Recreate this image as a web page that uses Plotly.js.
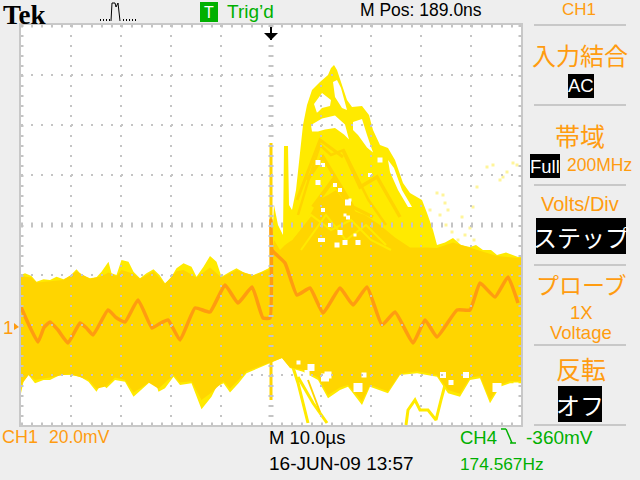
<!DOCTYPE html>
<html><head><meta charset="utf-8">
<script src="https://cdn.plot.ly/plotly-3.0.1.min.js"></script>
<style>html,body{margin:0;padding:0;background:#eee}</style></head>
<body><div id="chart" style="width:640px;height:480px"></div>
<script>
// Time in microseconds, level in millivolts (10 us/div, 20 mV/div, ground at the "1" marker)
const envelopeUpperT=[-50,-49.2,-47.9,-46.9,-45.5,-44.2,-42.9,-41.5,-40.2,-38.9,-37.9,-36.2,-34.9,-33.9,-32.5,-31.9,-30.9,-29.9,-28.5,-27.5,-26.2,-24.9,-23.5,-22.3,-21.2,-20.2,-18.9,-17.5,-15.9,-14.9,-13.5,-12.2,-10.9,-9.9,-8.2,-6.9,-5.2,-3.5,-1.9,-0.5,0,0.6,1.4,2.4,2.6,3.4,3.6,4.2,5,5.8,6.4,7.2,8.2,9.8,11.4,12,12.6,13.2,14.2,15.2,16.2,18.2,19.6,20.4,21.8,23.4,24.8,26.4,27.8,30.2,31.2,32.4,33.2,34.8,36.4,38,39.8,41,42.4,44,45.2,47,49.4,50];
const envelopeUpperV=[20,20.7,19.6,17.3,18.3,18,19.3,18.3,19.6,22.3,20,18.7,19.1,21.3,25.3,20.7,20,26,25.3,21.3,18.7,20.7,22.3,20,16.7,18.3,22.7,24.7,23.3,19.3,23.3,27.6,25.3,19.3,21.3,22.7,20.7,20,21.3,22.7,25.2,48,40,36,71.6,71.6,48,46,54,68,80,88,94,97.2,100,102.8,104,102,96,90,87.2,87.6,84,78,72,70.8,66,56.8,52.8,50,44.8,38,32,33,34.8,32,31.2,32,30,30,28,29,27.2,27.2];
const envelopeLowerT=[-50,-49.5,-48.5,-47.2,-45.5,-44.2,-42.2,-40.2,-38.2,-36.5,-34.9,-33.9,-32.9,-31.2,-29.2,-27.5,-25.9,-24.5,-23.5,-22.5,-21.2,-19.5,-18.2,-15.9,-13.9,-11.9,-10.9,-9.5,-8.2,-6.5,-4.9,-2.5,-0.2,2.2,3.8,6.4,9.4,11.4,13.8,15.4,18.2,19.8,23.4,25.8,29.2,33.2,35.4,37.8,39.8,41.8,43.8,45.8,47.8,50];
const envelopeLowerV=[-27.3,-22.7,-20,-23.3,-22,-22,-20,-20,-20.7,-22.7,-26.7,-23.3,-25.3,-22,-22.7,-28.7,-26,-23.3,-20,-26.7,-25.3,-20.7,-24,-23.3,-33.7,-28.7,-24.7,-23.3,-27,-23.3,-19.3,-17.3,-15.3,-13.2,-17.2,-18.7,-22,-29.3,-26,-24.7,-32,-24.7,-27.3,-20,-19.3,-20.7,-27.3,-28.7,-22,-21.3,-31.3,-24.7,-23.3,-23.3];
const denseUpperT=[-50,-47.9,-46.9,-44.2,-41.5,-38.9,-36.2,-33.9,-32.5,-30.9,-29.9,-27.5,-26.2,-23.5,-21.2,-18.9,-17.5,-14.9,-13.5,-12.2,-9.9,-6.9,-3.5,-0.5,0,0.6,1.8,2.8,4.2,5.8,7.8,9.4,11.4,13,14.5,16,18.8,21.8,24.8,27.8,30.8,33.2,36.4,39.8,42.4,45.2,49.4,50];
const denseUpperV=[19.5,19,17,17.6,18,21.5,18.5,19.5,21,19.5,22,20.5,18.5,21.5,16.5,21.5,22,19,21,23,19,22,19.8,22,24,34,30,32,34,38,44,50,52,54,50,46,44,40,35,31,31,30.8,33,30.8,29.2,27.6,26.8,26.8];
const denseLowerT=[-50,-48.5,-47.2,-44.2,-40.2,-36.5,-34.9,-32.9,-31.2,-29.2,-27.5,-25.9,-24.5,-22.5,-19.5,-18.2,-15.9,-13.9,-11.9,-9.5,-8.2,-6.5,-4.9,-0.2,2.2,3.8,6.4,9.4,11.4,13.8,15.4,18.2,19.8,23.4,25.8,29.2,33.2,35.4,37.8,39.8,41.8,43.8,45.8,47.8,50];
const denseLowerV=[-24,-20,-22,-21,-19.5,-22,-25.5,-24.5,-21,-22,-27,-25,-23,-25.5,-20,-23,-22.5,-30,-27,-22.5,-25.5,-22,-18.5,-15,-13.2,-17,-18,-21,-28,-25,-24,-30.5,-24,-26.5,-19.5,-18.5,-20,-26,-27.5,-21,-20.5,-30,-24,-22.5,-22.5];
const latestT=[-50,-48.6,-46.6,-45.4,-44.2,-42.6,-40.6,-38.2,-37,-35.6,-32.6,-31,-29.2,-26.6,-23.8,-22.4,-20.6,-18.2,-15.2,-12.2,-9.2,-6.6,-3.8,-1.6,-0.2,0,0.2,2.8,5.2,7.8,10.4,13.8,16.4,19.2,22.2,24.8,28.4,30.8,33.2,37.2,39.8,41.8,44.8,47.4,49.4];
const latestV=[7.2,0.8,-6.8,-1,1.2,-2,-7.2,0.8,-1,-4,6,3,1.2,10,-1.2,0.4,2,-6,6.8,5.2,16,8.8,15.2,2.8,2.8,42,30,24.8,12,14.8,4.8,14.8,8,15.2,0,5.2,-7.2,2,-4.8,6,6,16.8,11.2,19.2,8.8];
const triggerSpikeT=[0,0], triggerSpikeV=[72.8,-30];
const fallA_T=[3.8,5.4,7.4], fallA_V=[-13.2,-23.2,-39.2];
const fallB_T=[5.4,8.4,11.2], fallB_V=[-20.8,-31.2,-39.2];
const fallC_T=[7.4,9.8], fallC_V=[-22,-34.8];
const stragglerT=[27.0,27.4,28.8,29.8,31.4,32.2,33,34,34.8], stragglerV=[-40,-34,-30,-34,-34,-36,-38,-30,-24];
const ridgeA_T=[7,9,11,13.5], ridgeA_V=[78,84,86,86];
const streakA_T=[5.2,9.8,14.4], streakA_V=[50,74,67.2];
const streakB_T=[14.4,17.8,21.2,25.8], streakB_V=[70,55.2,59.2,43.2];
const streakC_T=[7.2,10.4,16.4,20.4], streakC_V=[58,67.2,47.2,43.2];
const streakD_T=[8.4,12.4,18.4], streakD_V=[47.2,58,39.2];
const streakE_T=[5.4,7.5,9.8,12,14.5,17,19.5,23], streakE_V=[44,58,72,68,70,60,50,40];
const glowA_T=[4,8,12,16,20,24], glowA_V=[34,44,38,42,34,30];
const glowB_T=[6,11,15,19,23], glowB_V=[30,44,34,40,32];
const holeT=[12.4,13.2,14,15,15.2,14.2,12.8,null,8.6,10.2,12,11.8,10.2,9.2,null,8,10.2,12.8,14.8,15.6,14.6,12.8,10.8,9.4,8.2,null,16.4,18.2,19.2,20.4,19.2,17.4,16.4,null,23.4,24.6,26.2,28.2,27.4,25.4,23.8];
const holeV=[97.2,98,94.8,88,86,86.8,91.2,null,88.4,92.8,90,87.6,86.8,84.8,null,80,82.6,83.8,80.2,74.2,76.2,78.8,78.2,77.4,77.4,null,81.2,82.4,76,69,71,76,78,null,66,62.8,54,47.2,47.2,54,61.2];
const gapT=[9.4,10.4,9.4,12.8,13.8,15.4,15.8,15.4,10.4,11.8,14.8,10.4,14.8,16.8,19.8,21.8,8,10.8,7.2,17.4,39,45.2,49,34.4,36,11.4,5.5,18.6,13.8,13.2,17.4,9.8];
const gapV=[65,64,57,56,54,49,50,43,46,40,44,34,33,36,60,66,-17,-21,-19,-25,-20,-25,-24,-20,-23,-20,-15,-20,37,32,33,34];
const gapSize=[5,4,5,4,4,6,3,4,4,4,3,4,5,3,4,5,7,8,5,9,6,9,5,6,5,7,4,5,5,5,5,4];
const faintT=[43.2,44.4,46.4,47.2,48.4,49.2,45.8,33.2,34.4,34.8,35.4,31.8,41.2,40.4,38.2,33.8,35,36.2,37.4,38.8,39.8,40.6];
const faintV=[63.2,64,59.2,61.2,64.8,64,58,52.8,52,48.8,46,46,55.2,47.2,43.2,44,40,37.2,34,36,38.8,34];

const L=21,R=521,T=25,B=425;
const X=p=>(p-L)/(R-L), Y=p=>(B-p)/(B-T);
const ORANGE='#FF9C10',GREEN='#00B000',SANS="'Liberation Sans',sans-serif",JP="'Noto Sans CJK JP',sans-serif",GRID='#C4C4C4',YEL='#FFEA00',GOLD='#FFD500';

const poly=(ux,uy,lx,ly,color)=>({x:ux.concat(lx.slice().reverse()),y:uy.concat(ly.slice().reverse()),mode:'lines',fill:'toself',fillcolor:color,line:{width:0,color:color},hoverinfo:'skip',showlegend:false});
const ln=(x,y,color,w,smooth)=>({x,y,mode:'lines',line:{color,width:w,shape:smooth?'spline':'linear',smoothing:0.4},hoverinfo:'skip',showlegend:false});
const traces=[
 {x:faintT,y:faintV,mode:'markers',marker:{symbol:'square',size:3,color:'#FFF59A'},hoverinfo:'skip',showlegend:false},
 poly(envelopeUpperT,envelopeUpperV,envelopeLowerT,envelopeLowerV,YEL),
 ln(fallA_T,fallA_V,YEL,3),ln(fallB_T,fallB_V,YEL,3),ln(fallC_T,fallC_V,GOLD,2),ln(stragglerT,stragglerV,YEL,3),
 poly(denseUpperT,denseUpperV,denseLowerT,denseLowerV,GOLD),
 ln(streakA_T,streakA_V,GOLD,3),ln(streakB_T,streakB_V,GOLD,3.5),ln(streakC_T,streakC_V,GOLD,3.5),ln(streakD_T,streakD_V,GOLD,4),ln(streakE_T,streakE_V,GOLD,2.5),
 ln(glowA_T,glowA_V,YEL,2),ln(glowB_T,glowB_V,YEL,2),
 {x:holeT,y:holeV,mode:'lines',fill:'toself',fillcolor:'#FFFFFF',line:{width:0,color:'#FFFFFF'},hoverinfo:'skip',showlegend:false},
 {x:gapT,y:gapV,mode:'markers',marker:{symbol:'square',size:gapSize,opacity:1,color:'#FFFFFF',line:{width:0}},hoverinfo:'skip',showlegend:false},
 ln(ridgeA_T,ridgeA_V,YEL,3),
 ln(triggerSpikeT,triggerSpikeV,GOLD,3),
 ln(latestT,latestV,ORANGE,3.5,true)
];

const shapes=[];
const seg=(x0,y0,x1,y1,color,width,dash)=>shapes.push({type:'line',xref:'x',yref:'y',x0,y0,x1,y1,line:{color,width,dash:dash||'solid'}});
const pline=(x0,y0,x1,y1,color,width)=>shapes.push({type:'line',xref:'paper',yref:'paper',x0:X(x0),y0:Y(y0),x1:X(x1),y1:Y(y1),line:{color,width}});
const box=(x0,y0,x1,y1,color)=>shapes.push({type:'rect',xref:'paper',yref:'paper',x0:X(x0),y0:Y(y0),x1:X(x1),y1:Y(y1),fillcolor:color,line:{width:0}});
const D='2px,8px';
for(let t=-40;t<=40;t+=10) if(t!==0) seg(t,120,t,-40,GRID,2,D);
for(const v of [100,80,60,20,0,-20]) seg(-50,v,50,v,GRID,2,D);
seg(-50,40,50,40,GRID,5,D);
seg(0,120,0,-40,GRID,5,D);
seg(-50,120,50,120,GRID,5,D); seg(-50,-40,50,-40,GRID,5,D);
seg(-50,120,-50,-40,GRID,5,D); seg(50,120,50,-40,GRID,5,D);
shapes.push({type:'rect',xref:'paper',yref:'paper',x0:X(L-1),y0:Y(T-1),x1:X(R+1),y1:Y(B+1),line:{color:'#C8C8C8',width:2},fillcolor:'rgba(0,0,0,0)'});
[25,105,185,265,345,425].forEach(y=>pline(534,y,626,y,'#C8C8C8',2));
box(200,2,218,22,GREEN);
box(568,74,594,98,'#000'); box(530,154,560,178,'#000'); box(536,218,626,254,'#000'); box(558,386,602,422,'#000');
pline(111,21,112,3,'#000',1);pline(112,3,115,3,'#000',1);pline(115,3,116,7,'#000',1);pline(116,7,118,3,'#000',1);pline(118,3,120,21,'#000',1);
[100,103,106,109,123,126,129,132,135].forEach(x=>pline(x,20,x+1,20,'#000',2));
pline(271,27,271,40,'#000',2);
shapes.push({type:'path',xref:'paper',yref:'paper',path:`M ${X(264)} ${Y(33)} L ${X(278)} ${Y(33)} L ${X(271)} ${Y(40)} Z`,fillcolor:'#000',line:{width:0}});
shapes.push({type:'path',xref:'paper',yref:'paper',path:`M ${X(14)} ${Y(323)} L ${X(19)} ${Y(327)} L ${X(14)} ${Y(330)} Z`,fillcolor:ORANGE,line:{width:0}});
pline(501,429,506,429,GREEN,1.5);pline(506,429,512,443,GREEN,1.5);pline(510,443,516,443,GREEN,1.5);

const ann=(text,x,y,color,size,family,anchor)=>({text,x:X(x),y:Y(y),xref:'paper',yref:'paper',showarrow:false,xanchor:anchor||'left',yanchor:'middle',font:{color,size,family:family||SANS},borderpad:0});
const annotations=[
 ann('<b>Tek</b>',2,15,'#000',27,"'Liberation Serif',serif"),
 ann('T',209,13,'#fff',16,SANS,'center'),
 ann('Trig’d',226,11,GREEN,19),
 ann('M Pos: 189.0ns',359,10,'#000',17.5),
 ann('CH1',579,10,ORANGE,17,SANS,'center'),
 ann('入力結合',580,55,ORANGE,24,JP,'center'),
 ann('AC',581,86,'#fff',18.5,SANS,'center'),
 ann('帯域',580,135,ORANGE,25,JP,'center'),
 ann('Full',545,166,'#fff',18.5,SANS,'center'),
 ann('200MHz',566,165,ORANGE,17.5),
 ann('Volts/Div',580,204,ORANGE,20,SANS,'center'),
 ann('ステップ',581,236,'#fff',24,JP,'center'),
 ann('プローブ',581,284,ORANGE,23,JP,'center'),
 ann('1X',581,312,ORANGE,18.5,SANS,'center'),
 ann('Voltage',581,332,ORANGE,18.5,SANS,'center'),
 ann('反転',581,368,ORANGE,25,JP,'center'),
 ann('オフ',580,404,'#fff',24,JP,'center'),
 ann('1',2,327,ORANGE,18.5),
 ann('CH1',1,437,ORANGE,18),
 ann('20.0mV',48,437,ORANGE,17.5),
 ann('M 10.0µs',268,437,'#000',18.5),
 ann('16-JUN-09 13:57',268,464,'#000',19),
 ann('CH4',459,437,GREEN,18.5),
 ann('-360mV',525,437,GREEN,19),
 ann('174.567Hz',459,464,GREEN,17.3)
];

Plotly.newPlot('chart',traces,{
 width:640,height:480,margin:{l:L,r:640-R,t:T,b:480-B,pad:0},
 paper_bgcolor:'#EEEEEE',plot_bgcolor:'#FFFFFF',showlegend:false,
 xaxis:{range:[-50,50],showgrid:false,zeroline:false,showticklabels:false,ticks:''},
 yaxis:{range:[-40,120],showgrid:false,zeroline:false,showticklabels:false,ticks:''},
 shapes,annotations
},{displayModeBar:false,staticPlot:true});
</script></body></html>
